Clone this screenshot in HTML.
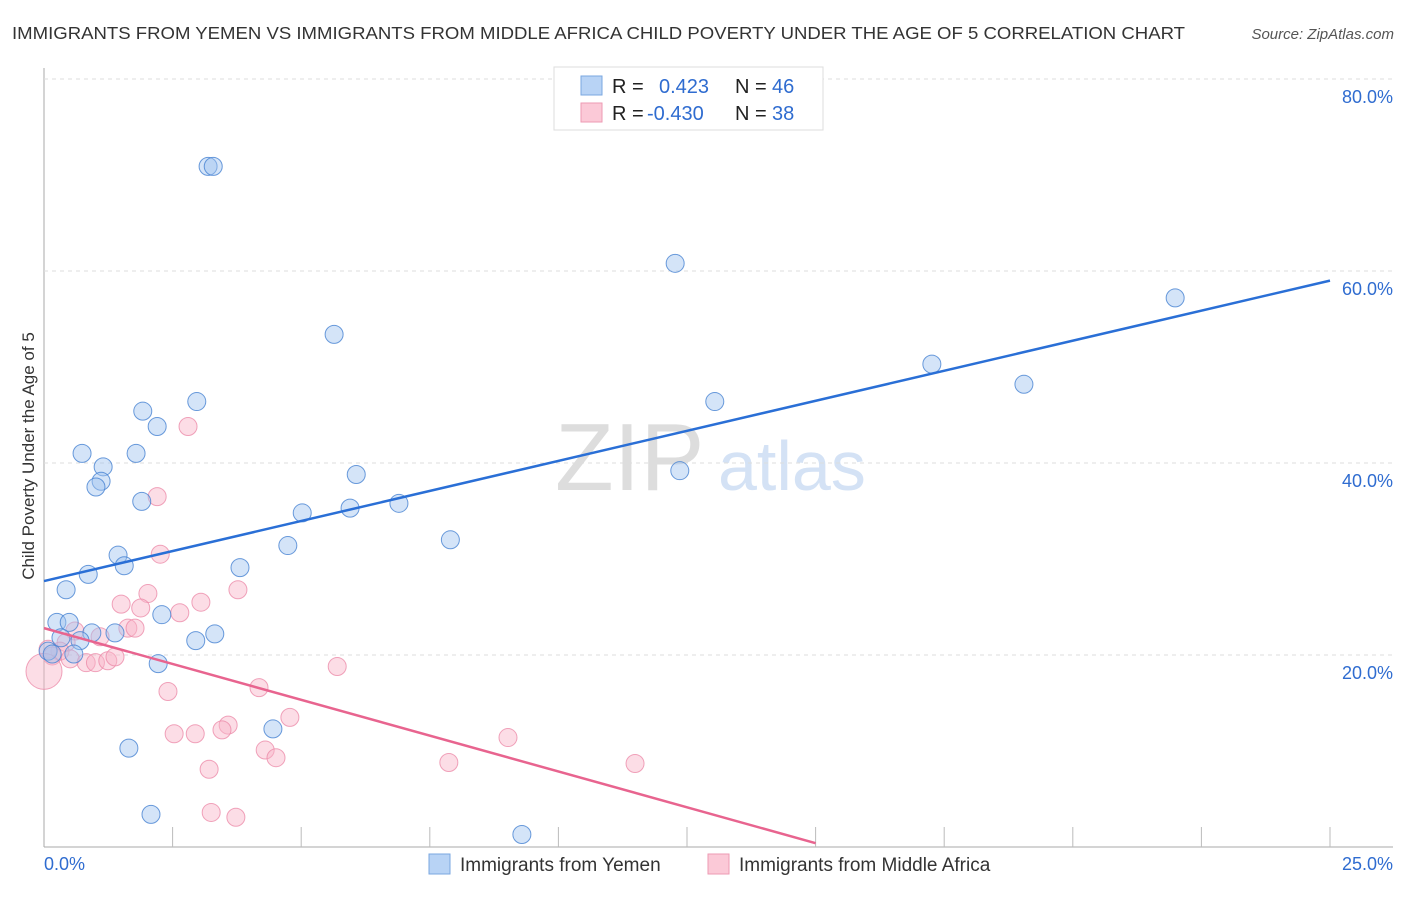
<!DOCTYPE html>
<html><head><meta charset="utf-8"><style>
body{margin:0;background:#fff;font-family:"Liberation Sans",sans-serif;}
svg text{font-family:"Liberation Sans",sans-serif;}
</style></head><body>
<svg id="c" width="1406" height="892">
<text x="12" y="39" font-size="17.5" fill="#333" textLength="1173" lengthAdjust="spacingAndGlyphs">IMMIGRANTS FROM YEMEN VS IMMIGRANTS FROM MIDDLE AFRICA CHILD POVERTY UNDER THE AGE OF 5 CORRELATION CHART</text>
<text x="1394" y="39" font-size="15" fill="#555" font-style="italic" text-anchor="end">Source: ZipAtlas.com</text>
<text x="34" y="456" font-size="17" fill="#333" text-anchor="middle" transform="rotate(-90 34 456)">Child Poverty Under the Age of 5</text>
<g><text x="555" y="490" font-size="96" fill="#ddd" font-family="Liberation Serif">ZIP</text><text x="718" y="490" font-size="70" fill="#d4e2f5">atlas</text></g>
<g id="grid"></g><g id="pts"></g><g id="lines"></g>
<g>
<rect x="554" y="67" width="269" height="63" fill="#fff" stroke="#ddd"/>
<rect x="581" y="76" width="21" height="19" fill="#b8d3f5" stroke="#7aa7e0"/>
<rect x="581" y="103" width="21" height="19" fill="#fbc9d7" stroke="#ee9ab3"/>
<text x="612" y="93" font-size="20" fill="#222">R = </text><text x="659" y="93" font-size="20" fill="#2f6cd0">0.423</text>
<text x="735" y="93" font-size="20" fill="#222">N = </text><text x="772" y="93" font-size="20" fill="#2f6cd0">46</text>
<text x="612" y="120" font-size="20" fill="#222">R = </text><text x="647" y="120" font-size="20" fill="#2f6cd0">-0.430</text>
<text x="735" y="120" font-size="20" fill="#222">N = </text><text x="772" y="120" font-size="20" fill="#2f6cd0">38</text>
</g>
<g>
<rect x="429" y="854" width="21" height="20" fill="#b8d3f5" stroke="#7aa7e0"/>
<text x="460" y="871" font-size="19" fill="#333">Immigrants from Yemen</text>
<rect x="708" y="854" width="21" height="20" fill="#fbc9d7" stroke="#ee9ab3"/>
<text x="739" y="871" font-size="19" fill="#333">Immigrants from Middle Africa</text>
</g>
<text x="44" y="870" font-size="18" fill="#2f6cd0">0.0%</text>
<text x="1393" y="870" font-size="18" fill="#2f6cd0" text-anchor="end">25.0%</text>
</svg>
<script>
const yTicks=[20,40,60,80];
const xTickVals=[2.5,5,7.5,10,12.5,15,17.5,20,22.5,25];
const blueX=[3.19,3.29,12.27,21.99,5.64,17.26,19.05,1.92,2.97,13.04,2.2,0.74,1.79,1.15,1.11,1.01,12.36,6.07,1.9,5.95,6.9,5.02,7.9,4.74,1.44,1.56,3.81,0.86,0.43,2.29,0.25,0.49,1.38,0.93,2.95,3.32,0.33,0.7,0.08,0.58,0.16,2.22,4.45,1.65,2.08,9.29];
const blueY=[70.9,70.9,60.8,57.2,53.4,50.3,48.2,45.4,46.4,46.4,43.8,41.0,41.0,39.6,38.1,37.5,39.2,38.8,36.0,35.3,35.8,34.8,32.0,31.4,30.4,29.3,29.1,28.4,26.8,24.2,23.4,23.4,22.3,22.3,21.5,22.2,21.8,21.5,20.4,20.1,20.1,19.1,12.3,10.3,3.4,1.3];
const pinkX=[2.8,2.2,2.26,2.02,3.77,3.05,1.5,1.88,2.64,1.63,1.77,1.09,0.6,0.43,0.31,0.08,0.16,0.51,0.82,1.0,1.24,1.38,5.7,2.41,4.18,4.78,3.58,3.46,2.53,2.94,4.3,4.51,3.21,7.87,9.02,11.49,3.25,3.73,0];
const pinkY=[43.8,36.5,30.5,26.4,26.8,25.5,25.3,24.9,24.4,22.8,22.8,21.9,22.5,21.3,20.4,20.6,19.9,19.6,19.2,19.2,19.4,19.8,18.8,16.2,16.6,13.5,12.7,12.2,11.8,11.8,10.1,9.3,8.1,8.8,11.4,8.7,3.6,3.1,18.3];
const blueLine=[[0,27.7],[25,59.0]];
const pinkLine=[[0,22.8],[15,0.4]];
const X=v=>44+v/25*1286, Y=v=>847-v*9.6;
const NS='http://www.w3.org/2000/svg';
function mk(p,t,a){const e=document.createElementNS(NS,t);for(const k in a)e.setAttribute(k,a[k]);p.appendChild(e);return e;}
const g=document.getElementById('grid');
const ax=mk(g,'line',{x1:44,y1:68,x2:44,y2:847,stroke:'#aaa'});


const bx=mk(g,'line',{x1:44,y1:847,x2:1393,y2:847,stroke:'#aaa'});


yTicks.forEach(v=>{
 const l=mk(g,'line',{x1:44,x2:1393,y1:Y(v),y2:Y(v),stroke:'#ddd','stroke-dasharray':'4,4'});
 
 
 const t=mk(g,'text',{x:1393,y:Y(v)+24,'font-size':18,fill:'#2f6cd0','text-anchor':'end'});
 t.textContent=v.toFixed(1)+'%';
 
 
});
xTickVals.forEach(v=>{
 const l=mk(g,'line',{x1:X(v),x2:X(v),y1:827,y2:847,stroke:'#bbb'});
 
 
});
const p=document.getElementById('pts');
pinkX.forEach((x,i)=>{
 const c=mk(p,'circle',{cx:X(x),cy:Y(pinkY[i]),r:i==pinkX.length-1?18:9,fill:'rgba(248,180,200,0.45)',stroke:'rgba(236,140,170,0.8)'});
 
 
});
blueX.forEach((x,i)=>{
 const c=mk(p,'circle',{cx:X(x),cy:Y(blueY[i]),r:9,fill:'rgba(160,195,240,0.45)',stroke:'rgba(70,130,210,0.8)'});
 
 
});
const L=document.getElementById('lines');
const b=mk(L,'line',{x1:X(blueLine[0][0]),y1:Y(blueLine[0][1]),x2:X(blueLine[1][0]),y2:Y(blueLine[1][1]),stroke:'#2a6fd6','stroke-width':2.5});


const q=mk(L,'line',{x1:X(pinkLine[0][0]),y1:Y(pinkLine[0][1]),x2:X(pinkLine[1][0]),y2:Y(pinkLine[1][1]),stroke:'#e8648f','stroke-width':2.5});


</script>
</body></html>
